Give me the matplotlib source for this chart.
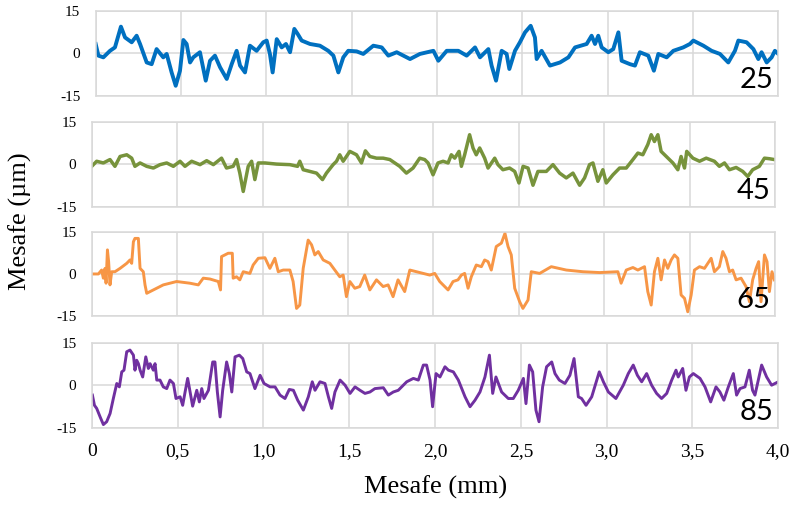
#Surface profiles for the four samples, stacked panels
#Values were read off the measured profile traces

import matplotlib
matplotlib.use("Agg")
import matplotlib.pyplot as plt

fsize = 14

# sample names shown in the corner of each panel
samples = ["25", "45", "65", "85"]
colors = ["#0070C0", "#77933C", "#F79646", "#7030A0"]
widths = [2.8, 2.5, 2.1, 2.1]

# distance (mm) and height (um) for each sample
x25 = [0.000, 0.016, 0.045, 0.084, 0.113, 0.148, 0.172, 0.211, 0.240, 0.260,
       0.299, 0.328, 0.357, 0.396, 0.416, 0.445, 0.469, 0.494, 0.514, 0.533,
       0.553, 0.572, 0.611, 0.645, 0.670, 0.699, 0.729, 0.768, 0.797, 0.826,
       0.846, 0.875, 0.904, 0.943, 0.982, 1.002, 1.021, 1.037, 1.061, 1.090,
       1.115, 1.139, 1.164, 1.184, 1.207, 1.256, 1.314, 1.363, 1.393, 1.422,
       1.451, 1.480, 1.529, 1.568, 1.627, 1.676, 1.715, 1.764, 1.842, 1.900,
       1.979, 2.008, 2.057, 2.125, 2.174, 2.223, 2.252, 2.301, 2.320, 2.346,
       2.379, 2.408, 2.424, 2.457, 2.486, 2.516, 2.549, 2.574, 2.584, 2.613,
       2.662, 2.721, 2.770, 2.809, 2.877, 2.906, 2.926, 2.945, 2.965, 3.004,
       3.033, 3.063, 3.082, 3.131, 3.160, 3.189, 3.238, 3.271, 3.297, 3.346,
       3.385, 3.443, 3.482, 3.502, 3.561, 3.609, 3.658, 3.707, 3.746, 3.766,
       3.814, 3.854, 3.883, 3.902, 3.932, 3.961, 3.980, 4.000]
y25 = [3.3, -0.8, -1.4, 0.9, 2.1, 9.4, 5.6, 3.9, 6.2, 3.3,
       -3.2, -3.8, 1.5, -1.4, -0.2, -6.7, -11.4, -6.1, 4.7, 3.3,
       -3.2, -1.4, 0.4, -9.6, -2.6, -0.8, -4.9, -9.0, -3.8, 0.9,
       -4.3, -6.7, 2.7, 0.9, 3.9, 4.5, -0.2, -6.7, 5.0, 2.1,
       3.3, 0.4, 8.6, 6.8, 4.5, 3.3, 2.7, 0.9, -0.8, -6.7,
       -1.4, 0.9, 0.7, -0.2, 2.7, 2.1, -0.8, 0.4, -2.0, -0.2,
       0.9, -2.6, 0.9, 0.9, -0.8, 2.1, -1.4, 1.5, -4.3, -9.6,
       0.9, -0.2, -5.5, 0.9, 3.9, 7.4, 9.7, 5.6, -2.0, 0.9,
       -4.3, -3.2, -1.4, 2.1, 3.3, 6.2, 3.3, 6.2, 2.1, 0.4,
       1.5, 7.4, -2.6, -3.8, -4.3, 0.4, -0.8, -6.1, -0.2, -1.4,
       0.9, 2.1, 3.3, 4.5, 2.7, 0.9, -0.2, -3.2, 0.9, 4.5,
       3.9, 1.5, -2.0, 0.4, -3.2, -1.4, 0.9, -0.2]

x45 = [0.000, 0.029, 0.068, 0.107, 0.136, 0.166, 0.205, 0.234, 0.253, 0.283,
       0.322, 0.361, 0.400, 0.439, 0.478, 0.517, 0.546, 0.585, 0.634, 0.673,
       0.712, 0.760, 0.789, 0.828, 0.848, 0.867, 0.887, 0.916, 0.936, 0.955,
       0.975, 1.014, 1.082, 1.160, 1.205, 1.218, 1.238, 1.277, 1.316, 1.351,
       1.374, 1.413, 1.433, 1.452, 1.472, 1.511, 1.550, 1.579, 1.602, 1.628,
       1.667, 1.706, 1.745, 1.784, 1.803, 1.842, 1.881, 1.920, 1.949, 1.969,
       1.998, 2.027, 2.057, 2.086, 2.105, 2.125, 2.150, 2.164, 2.183, 2.212,
       2.232, 2.251, 2.271, 2.300, 2.320, 2.359, 2.378, 2.407, 2.446, 2.476,
       2.501, 2.525, 2.554, 2.583, 2.612, 2.661, 2.700, 2.739, 2.778, 2.817,
       2.856, 2.885, 2.914, 2.934, 2.963, 2.992, 3.012, 3.051, 3.090, 3.129,
       3.168, 3.197, 3.226, 3.255, 3.275, 3.294, 3.314, 3.333, 3.363, 3.402,
       3.431, 3.450, 3.470, 3.483, 3.519, 3.558, 3.597, 3.645, 3.674, 3.704,
       3.733, 3.772, 3.811, 3.840, 3.869, 3.908, 3.938, 3.967, 3.996]
y45 = [-0.7, 1.1, 0.5, 1.7, -0.7, 2.8, 3.4, 2.2, -0.7, 0.5,
       -0.7, -1.3, -0.1, 0.5, -0.7, 1.1, -0.7, 1.1, -0.1, 1.3,
       -0.1, 2.2, -1.3, -0.7, 1.7, -3.1, -9.6, -0.7, 1.1, -5.4,
       0.5, 0.5, 0.1, -0.1, -0.7, 1.1, -1.9, -2.5, -3.1, -5.4,
       -3.1, -0.1, 1.1, 3.4, 1.1, 4.6, 3.4, 0.5, 4.8, 2.8,
       2.2, 2.2, 1.7, 0.1, -0.7, -3.1, -1.3, 2.2, 1.7, 0.5,
       -3.7, 0.5, 1.1, 0.5, 3.4, 2.2, 4.6, -0.7, 3.4, 10.5,
       5.8, 3.4, 5.8, 2.2, -1.3, 2.2, -0.1, -1.9, -1.3, -2.5,
       -6.6, -0.7, -1.3, -7.4, -2.5, -2.5, -0.1, -3.1, -4.8, -3.1,
       -7.4, -4.8, -0.1, 0.5, -6.0, -1.9, -6.6, -3.7, -1.3, -1.3,
       1.7, 4.0, 3.4, 7.0, 10.5, 8.1, 10.5, 4.6, 2.8, 0.5,
       -1.9, 2.8, -1.3, 4.6, 2.2, 1.1, 2.2, 1.1, -0.7, 0.5,
       -1.9, -1.1, -2.5, -4.3, -1.9, -0.7, 2.2, 2.0, 1.7]

x65 = [0.000, 0.039, 0.058, 0.068, 0.078, 0.084, 0.092, 0.099, 0.107, 0.117,
       0.136, 0.166, 0.205, 0.224, 0.234, 0.244, 0.253, 0.273, 0.283, 0.302,
       0.312, 0.322, 0.361, 0.419, 0.497, 0.575, 0.624, 0.653, 0.692, 0.741,
       0.754, 0.760, 0.799, 0.823, 0.828, 0.848, 0.867, 0.887, 0.926, 0.945,
       0.975, 1.014, 1.043, 1.072, 1.092, 1.121, 1.160, 1.179, 1.199, 1.218,
       1.238, 1.267, 1.287, 1.306, 1.326, 1.355, 1.394, 1.423, 1.452, 1.472,
       1.491, 1.511, 1.540, 1.569, 1.598, 1.628, 1.667, 1.706, 1.735, 1.764,
       1.793, 1.832, 1.862, 1.901, 1.940, 1.979, 2.008, 2.037, 2.066, 2.086,
       2.115, 2.144, 2.164, 2.183, 2.203, 2.222, 2.251, 2.281, 2.300, 2.320,
       2.339, 2.368, 2.398, 2.419, 2.437, 2.456, 2.476, 2.505, 2.524, 2.554,
       2.573, 2.622, 2.690, 2.778, 2.875, 2.973, 3.080, 3.099, 3.129, 3.168,
       3.197, 3.236, 3.255, 3.275, 3.294, 3.314, 3.333, 3.353, 3.372, 3.392,
       3.411, 3.431, 3.450, 3.470, 3.489, 3.509, 3.528, 3.558, 3.587, 3.626,
       3.645, 3.674, 3.694, 3.713, 3.733, 3.752, 3.772, 3.801, 3.830, 3.850,
       3.869, 3.889, 3.904, 3.918, 3.938, 3.953, 3.967, 3.982, 3.996]
y65 = [0.0, 0.0, 1.4, -1.5, 2.0, -3.3, 8.6, 4.4, -3.9, 0.8,
       0.8, 2.0, 3.8, 5.0, 3.8, 11.5, 12.7, 12.7, 2.0, 0.8,
       -3.9, -6.9, -5.7, -3.9, -2.7, -3.3, -3.9, -1.5, -1.8, -2.7,
       -5.7, 6.2, 7.4, 7.4, -1.5, -1.0, -2.1, 0.8, 0.2, 3.2,
       5.6, 5.8, 2.0, 5.6, 0.8, 1.4, 1.4, -2.7, -12.3, -11.1,
       2.0, 12.1, 10.4, 6.8, 8.0, 5.0, 3.8, 1.4, -1.0, -0.4,
       -8.1, -2.7, -5.1, -4.5, -0.4, -5.7, -2.1, -4.5, -3.9, -8.1,
       -2.1, -6.3, 1.4, 0.8, 0.2, -0.4, 0.2, -2.7, -4.5, -5.7,
       -2.7, -2.1, -0.4, 0.2, -5.1, -1.0, 3.2, 2.6, 5.0, 4.4,
       1.4, 9.8, 11.0, 14.5, 9.8, 6.8, -5.1, -9.9, -12.3, -9.3,
       0.8, 0.2, 2.6, 1.4, 0.8, 0.5, 0.8, -3.3, 1.4, 2.3,
       1.4, 2.6, -6.3, -11.1, 0.8, 5.6, -2.1, 5.0, 2.0, 5.0,
       6.8, 5.6, -7.5, -8.7, -13.5, -7.5, 1.4, 2.6, 2.0, 5.6,
       0.8, 2.6, 8.0, 5.6, 0.8, 1.4, -2.1, -1.5, -4.5, -9.9,
       -2.1, 2.0, 4.4, -9.9, 6.8, 4.4, -6.3, 0.8, -2.1]

x85 = [0.004, 0.016, 0.029, 0.049, 0.068, 0.087, 0.107, 0.126, 0.146, 0.161,
       0.175, 0.188, 0.204, 0.223, 0.243, 0.252, 0.262, 0.272, 0.282, 0.297,
       0.315, 0.330, 0.340, 0.359, 0.369, 0.379, 0.398, 0.417, 0.437, 0.456,
       0.476, 0.491, 0.515, 0.530, 0.544, 0.559, 0.573, 0.588, 0.612, 0.627,
       0.641, 0.654, 0.680, 0.705, 0.718, 0.732, 0.748, 0.763, 0.786, 0.802,
       0.816, 0.835, 0.860, 0.880, 0.903, 0.922, 0.951, 0.981, 1.004, 1.039,
       1.068, 1.097, 1.126, 1.151, 1.175, 1.200, 1.233, 1.262, 1.285, 1.301,
       1.330, 1.359, 1.379, 1.398, 1.417, 1.447, 1.476, 1.505, 1.534, 1.563,
       1.592, 1.621, 1.650, 1.699, 1.728, 1.757, 1.786, 1.835, 1.874, 1.903,
       1.932, 1.951, 1.971, 1.986, 2.006, 2.029, 2.058, 2.078, 2.107, 2.136,
       2.175, 2.204, 2.233, 2.262, 2.291, 2.317, 2.336, 2.355, 2.388, 2.427,
       2.456, 2.485, 2.515, 2.530, 2.550, 2.569, 2.588, 2.606, 2.627, 2.650,
       2.680, 2.699, 2.724, 2.757, 2.786, 2.810, 2.835, 2.854, 2.880, 2.913,
       2.957, 2.981, 3.010, 3.054, 3.097, 3.126, 3.155, 3.179, 3.204, 3.233,
       3.262, 3.291, 3.320, 3.350, 3.379, 3.404, 3.417, 3.443, 3.462, 3.482,
       3.505, 3.544, 3.573, 3.606, 3.637, 3.660, 3.683, 3.709, 3.738, 3.757,
       3.777, 3.806, 3.831, 3.850, 3.864, 3.903, 3.932, 3.961, 4.000]
y85 = [-3.5, -7.1, -8.2, -11.2, -13.9, -12.9, -10.0, -4.7, 0.6, -0.6,
       4.7, 5.3, 11.8, 12.4, 10.6, 5.3, 8.8, 7.6, 5.3, 2.9,
       10.0, 5.9, 7.6, 5.3, 7.6, 1.8, 1.8, -0.6, -1.2, 1.8,
       0.6, -4.7, -4.1, -7.1, -2.4, 2.4, -2.4, -7.4, -1.8, -5.9,
       -1.2, -4.7, -1.8, 8.2, 8.2, -2.4, -11.2, -1.8, 8.2, 4.1,
       -2.4, 10.0, 10.6, 9.4, 4.7, 4.1, -1.2, 3.5, 0.6, -0.6,
       -0.6, -3.5, -4.7, -1.5, -1.8, -5.3, -8.8, -4.1, 1.2, -1.8,
       1.2, 0.6, -4.1, -8.2, -2.4, 1.8, 0.0, -2.9, -0.6, -1.8,
       -2.9, -2.4, -1.2, -0.9, -3.5, -2.4, -1.8, 1.2, 2.4, 1.8,
       7.1, 7.1, 1.8, -7.6, 4.1, 2.9, 6.5, 5.3, 4.7, 1.8,
       -4.1, -7.6, -5.3, -2.4, 2.9, 10.6, -2.9, 2.9, -2.4, -4.7,
       -4.7, -1.8, 2.4, -6.5, 7.1, 4.7, -8.8, -12.9, -0.6, 6.5,
       8.2, 4.1, 1.8, 0.6, 3.5, 9.4, -4.1, -4.7, -7.1, -4.1,
       4.7, 1.2, -2.4, -4.7, 0.0, 4.1, 7.1, 3.5, 1.2, 4.1,
       0.0, -2.9, -4.7, -2.9, 1.8, 5.3, 2.9, 5.9, -1.8, 2.9,
       4.1, 2.4, -0.6, -5.9, -0.6, -2.4, -5.3, -0.6, 4.1, -3.5,
       -1.2, -0.6, 5.3, -1.8, -3.5, 7.1, 2.9, 0.0, 1.2]

xs = [x25, x45, x65, x85]
ys = [y25, y45, y65, y85]

# panel rectangles (left, bottom, width, height) in figure fraction
boxes = [[0.1208, 0.8110, 0.8619, 0.1679],
         [0.1158, 0.5931, 0.8628, 0.1667],
         [0.1158, 0.3780, 0.8628, 0.1654],
         [0.1158, 0.1581, 0.8669, 0.1673]]

grid_col = "#d9d9d9"


def setup_plt():
    plt.rcParams['font.family'] = ['Liberation Serif', 'DejaVu Serif']


def draw_panel(fig, box, x, y, name, line_color, lw, last):
    ax = fig.add_axes(box)
    ax.plot(x, y, color=line_color, linewidth=lw, solid_joinstyle='round')
    ax.set_xlim(0, 4.0)
    ax.set_ylim(-15, 15)
    ax.set_yticks([-15, 0, 15])
    ax.set_yticklabels(["-15", "0", "15"])
    ax.set_xticks([0, 0.5, 1.0, 1.5, 2.0, 2.5, 3.0, 3.5, 4.0])
    if last:
        ax.set_xticklabels(["0", "0,5", "1,0", "1,5", "2,0", "2,5",
                            "3,0", "3,5", "4,0"])
    else:
        ax.set_xticklabels([])
    ax.tick_params(length=0, labelsize=fsize - 3, axis='y', pad=11)
    ax.tick_params(length=0, labelsize=fsize, axis='x', pad=11)
    ax.grid(True, color=grid_col, linewidth=1.1)
    ax.set_axisbelow(True)
    for sp in ax.spines.values():
        sp.set_color(grid_col)
        sp.set_linewidth(1.1)
    ax.text(0.993, 0.03, name, transform=ax.transAxes, ha='right',
            va='bottom', fontsize=21, family=['Lato', 'DejaVu Sans'],
            color='black')
    return ax


def profiles():
    setup_plt()
    fig = plt.figure(figsize=(7.92, 5.08), dpi=100)
    for i in range(4):
        draw_panel(fig, boxes[i], xs[i], ys[i], samples[i], colors[i],
                   widths[i], i == 3)

    fig.text(0.026, 0.565, "Mesafe (\u00b5m)", rotation=90, ha='center',
             va='center', fontsize=19)
    fig.text(0.55, 0.04, "Mesafe (mm)", ha='center', va='center', fontsize=19)
    fig.savefig("out.png", dpi=100)


if __name__ == "__main__":
    profiles()
